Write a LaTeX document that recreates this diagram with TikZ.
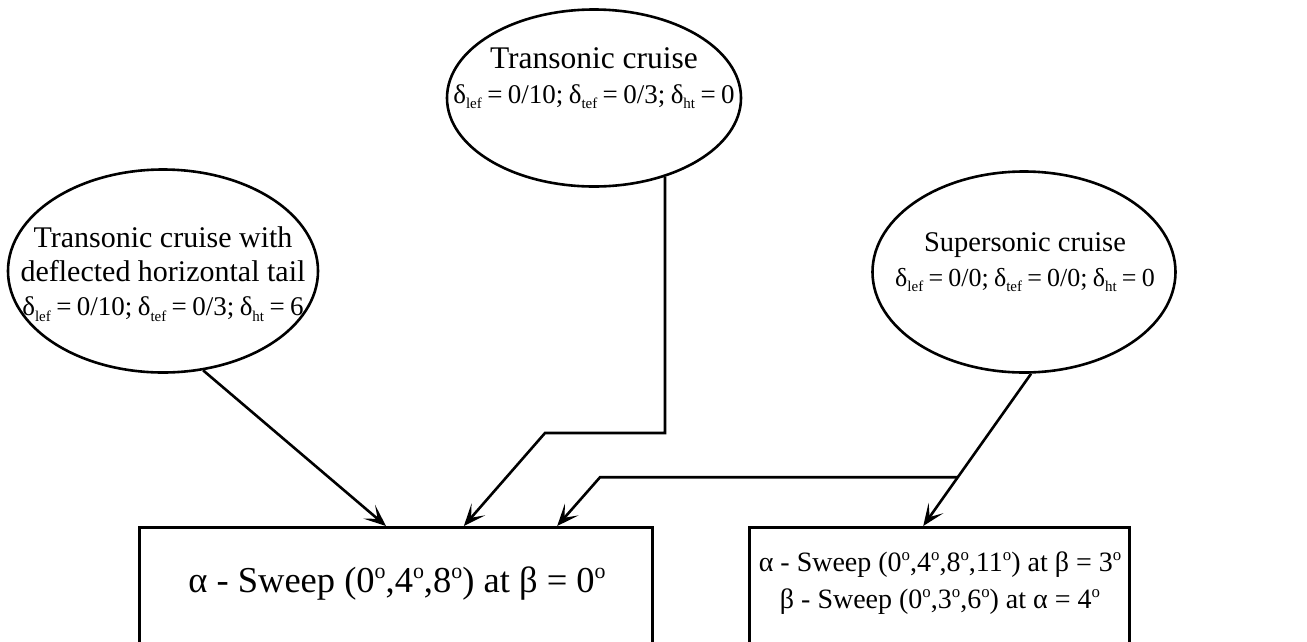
\documentclass[tikz,border=0pt]{standalone}
\usepackage{fontspec}
\setmainfont{Liberation Serif}
\usetikzlibrary{shapes.geometric,arrows.meta,calc}
\newcommand{\sbx}[1]{\raisebox{-0.45ex}{\fontsize{15}{16}\selectfont #1}}
\newcommand{\dg}{\raisebox{0.85ex}{\fontsize{0.6em}{1em}\selectfont o}}
\newcommand{\dl}{\fontsize{27}{34}\selectfont\spaceskip=0.2em plus 0.05em minus 0.05em\relax}
\newcommand{\dlr}{\fontsize{26}{34}\selectfont\spaceskip=0.2em plus 0.05em minus 0.05em\relax}
\begin{document}
\begin{tikzpicture}[x=1pt,y=-1pt,
  ell/.style={draw,ellipse,line width=2.6pt,inner sep=0pt},
  etext/.style={align=center,inner sep=0pt,font=\fontsize{30}{34}\selectfont},
  boxst/.style={draw,rectangle,line width=2.6pt,inner sep=0pt,anchor=north west},
  arr/.style={line width=2.6pt,-{Stealth[length=22pt,width=18pt,inset=11pt]}}]
\useasboundingbox (0,0) rectangle (1307,641);
\fill[white] (0,0) rectangle (1307,641);
\clip (0,0) rectangle (1307,641);

\node[ell,minimum width=310pt,minimum height=203pt] (L) at (163,271) {};
\node[etext] (Lt) at (163,274)
  {Transonic cruise with\\deflected horizontal tail\\\dl δ\sbx{lef} = 0/10; δ\sbx{tef} = 0/3; δ\sbx{ht} = 6};
\node[ell,minimum width=294pt,minimum height=177pt] (T) at (594,98) {};
\node[etext,font=\fontsize{31.5}{35}\selectfont] (Tt) at (594,78)
  {Transonic cruise\\\dl δ\sbx{lef} = 0/10; δ\sbx{tef} = 0/3; δ\sbx{ht} = 0};
\node[ell,minimum width=303pt,minimum height=201pt] (R) at (1024,272) {};
\node[etext,font=\fontsize{28.5}{35}\selectfont] (Rt) at (1025,262)
  {Supersonic cruise\\\dlr δ\sbx{lef} = 0/0; δ\sbx{tef} = 0/0; δ\sbx{ht} = 0};

\node[boxst,minimum width=513pt,minimum height=117pt] (A) at (138,526) {};
\node[font=\fontsize{36.5}{40}\selectfont,inner sep=0pt] (At) at (397,584)
  {α - Sweep (0\dg,4\dg,8\dg) at β = 0\dg};
\node[boxst,minimum width=380pt,minimum height=117pt] (B) at (748,526) {};
\node[align=center,inner sep=0pt,font=\fontsize{28}{37}\selectfont] (Bt) at (940,583)
  {α - Sweep (0\dg,4\dg,8\dg,11\dg) at β = 3\dg\\β - Sweep (0\dg,3\dg,6\dg) at α = 4\dg};

\coordinate (a1) at ($(A.north west)!0.481!(A.north east)$);
\coordinate (a2) at ($(A.north west)!0.632!(A.north east)$);
\coordinate (a3) at ($(A.north west)!0.813!(A.north east)$);
\coordinate (b1) at ($(B.north west)!0.458!(B.north east)$);
\coordinate (m1) at (663,433);
\coordinate (m2) at (545,433);
\coordinate (r1) at (600,477);

\draw[arr] (L.-68) -- (a1);
\draw[arr] (T.-48) -- (T.-48 |- m1) -- (m2) -- (a2);
\draw[arr] (R.-86) -- coordinate[pos=0.68] (rb) (b1);
\draw[arr] (rb) -- (rb -| r1) -- (a3);
\end{tikzpicture}
\end{document}
